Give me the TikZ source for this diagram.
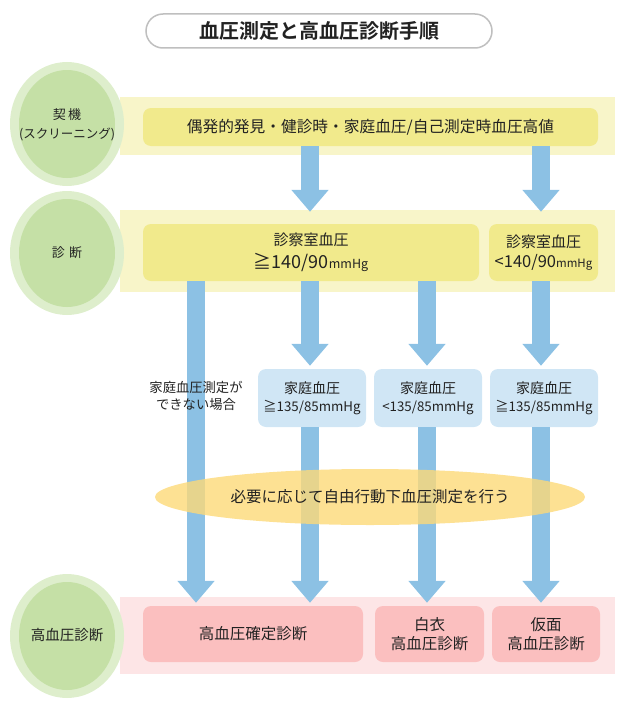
\documentclass[tikz,border=0pt]{standalone}
\usepackage{fontspec}
\setmainfont{Noto Sans CJK JP}[BoldFont={Noto Sans CJK JP Bold}]
\usetikzlibrary{shapes.geometric,arrows.meta,calc}
\definecolor{bandY}{HTML}{F8F5C9}
\definecolor{boxY}{HTML}{F1EA8C}
\definecolor{arrowB}{HTML}{8CC1E4}
\definecolor{boxB}{HTML}{D0E6F5}
\definecolor{ellY}{HTML}{FDD978}
\definecolor{bandP}{HTML}{FDE5E6}
\definecolor{boxP}{HTML}{FBBFBF}
\definecolor{circO}{HTML}{DEEECC}
\definecolor{circI}{HTML}{C5E0A6}
\definecolor{txt}{HTML}{222222}
\newcommand{\fs}[1]{\fontsize{#1}{#1}\selectfont}
\begin{document}
\begin{tikzpicture}[x=1pt,y=-1pt,
  every node/.style={text=txt},
  band/.style={fill=#1, draw=none},
  outerc/.style={ellipse, fill=circO, minimum width=114pt, minimum height=124pt, inner sep=0pt},
  innerc/.style={ellipse, fill=circI, minimum width=96pt, minimum height=108pt, inner sep=0pt},
  clabel/.style={align=center, inner sep=0pt, font=\fs{13}},
  rbox/.style={fill=#1, rounded corners=8pt, inner sep=0pt, align=center},
  barrow/.style={draw=arrowB, line width=18pt, -{Triangle[width=36pt,length=22pt]}}
]
\useasboundingbox (0,0) rectangle (630,717);
% title
\node[draw=black!25, line width=1.5pt, fill=white, rounded corners=17pt, minimum width=346pt, minimum height=34pt, font=\bfseries\fs{20}] (title) at (319,31) {血圧測定と高血圧診断手順};
% bands
\fill[band=bandY] (120,97) rectangle (615,155);
\fill[band=bandY] (120,210) rectangle (615,292);
\fill[band=bandP] (120,597) rectangle (615,674);
% circles
\node[outerc] (k1o) at (67,124) {};
\node[innerc] (k1i) at (67,124) {};
\node[clabel, font=\fs{12.5}] (k1) at (67,125) {{\fs{13}契\,機}\\[6pt](スクリーニング)};
\node[outerc] (k2o) at (67,253) {};
\node[innerc] (k2i) at (67,253) {};
\node[clabel] (k2) at (67,253) {診\,\,断};
\node[outerc] (k3o) at (67,636) {};
\node[innerc] (k3i) at (67,636) {};
\node[clabel, font=\fs{14.5}] (k3) at (67,635) {高血圧診断};
% boxes
\node[rbox=boxY, minimum width=455pt, minimum height=38pt, font=\fs{15.7}] (b1) at (370.5,127) {偶発的発見・健診時・家庭血圧/自己測定時血圧高値};
\node[rbox=boxY, minimum width=336pt, minimum height=57pt, font=\fs{15}] (b2a) at (311,252.5) {診察室血圧\\[5pt]{\fs{18}≧140/90}{\fs{12.5}mmHg}};
\node[rbox=boxY, minimum width=109pt, minimum height=57pt, font=\fs{15}] (b2b) at (543.5,252.5) {診察室血圧\\[5pt]{\fs{16.5}<140/90}{\fs{11.5}mmHg}};
\node[rbox=boxB, minimum width=108pt, minimum height=58pt, font=\fs{14}] (b3a) at (312,398) {家庭血圧\\[4pt]{\fs{13.3}≧135/85mmHg}};
\node[rbox=boxB, minimum width=108pt, minimum height=58pt, font=\fs{14}] (b3b) at (428,398) {家庭血圧\\[4pt]{\fs{13.3}<135/85mmHg}};
\node[rbox=boxB, minimum width=108pt, minimum height=58pt, font=\fs{14}] (b3c) at (544,398) {家庭血圧\\[4pt]{\fs{13.3}≧135/85mmHg}};
\node[rbox=boxP, minimum width=220pt, minimum height=56pt, font=\fs{15.5}] (b4a) at (253,634) {高血圧確定診断};
\node[rbox=boxP, minimum width=109pt, minimum height=56pt, font=\fs{15.5}] (b4b) at (429.5,634) {白衣\\[3pt]高血圧診断};
\node[rbox=boxP, minimum width=108pt, minimum height=56pt, font=\fs{15.5}] (b4c) at (546,634) {仮面\\[3pt]高血圧診断};
% columns
\coordinate (c1) at (196,0);
\coordinate (c2) at (310,0);
\coordinate (c3) at (427,0);
\coordinate (c4) at (541,0);
% arrows
\draw[barrow] (b1.south -| c2) -- ($(b2a.north -| c2)+(0,-12)$);
\draw[barrow] (b1.south -| c4) -- ($(b2b.north -| c4)+(0,-12)$);
\draw[barrow] (b2a.south -| c1) -- ($(b4a.north -| c1)+(0,-3)$);
\draw[barrow] (b2a.south -| c2) -- ($(b3a.north -| c2)+(0,-3)$);
\draw[barrow] (b2a.south -| c3) -- ($(b3b.north -| c3)+(0,-3)$);
\draw[barrow] (b2b.south -| c4) -- ($(b3c.north -| c4)+(0,-3)$);
\draw[barrow] (b3a.south -| c2) -- ($(b4a.north -| c2)+(0,-3)$);
\draw[barrow] (b3b.south -| c3) -- ($(b4b.north -| c3)+(0,-3)$);
\draw[barrow] (b3c.south -| c4) -- ($(b4c.north -| c4)+(0,-3)$);
% ellipse
\node[ellipse, fill=ellY, fill opacity=0.8, text opacity=1, minimum width=430pt, minimum height=56pt, font=\fs{15.5}] (ell) at (370,497) {必要に応じて自由行動下血圧測定を行う};
% side label
\node[align=center, font=\fs{13.3}, inner sep=0pt] (side) at (196,396) {家庭血圧測定が\\[4pt]できない場合};
\end{tikzpicture}
\end{document}
